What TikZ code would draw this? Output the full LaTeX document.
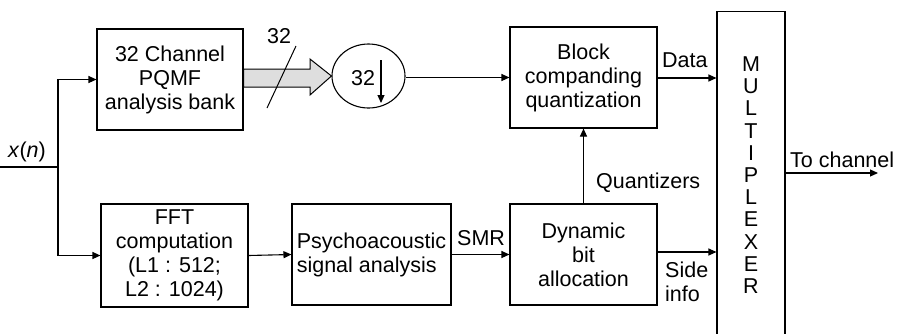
\documentclass[tikz,border=0pt]{standalone}
\usepackage{fontspec}
\setmainfont{Liberation Sans}
\usetikzlibrary{arrows.meta,shapes.geometric,calc}
\begin{document}
\begin{tikzpicture}[x=1pt,y=-1pt,
  every node/.style={font=\fontsize{21.5}{24}\selectfont},
  blk/.style={draw,line width=1.1pt,inner sep=0pt,align=center},
  lbl/.style={inner sep=0pt,anchor=base west},
  conn/.style={line width=1.1pt},
  arr/.style={conn,-{Triangle[length=8pt,width=7pt]}}]
\useasboundingbox (0,0) rectangle (902,333);
% boxes
\node[blk,minimum width=146pt,minimum height=101pt] (pqmf) at (170,79.5) {32 Channel\\PQMF\\analysis bank};
\node[blk,minimum width=147pt,minimum height=103pt] (fft) at (174.5,255.5) {FFT\\computation\\(L1 : 512;\\L2 : 1024)};
\node[blk,minimum width=159pt,minimum height=101pt,align=left] (psy) at (371.5,254.5) {Psychoacoustic\\signal analysis};
\node[blk,minimum width=147pt,minimum height=101pt] (dyn) at (583.5,254.5) {Dynamic\\bit\\allocation};
\node[blk,minimum width=147pt,minimum height=101pt] (bcq) at (583.5,77.5) {Block\\companding\\quantization};
\node[blk,minimum width=68pt,minimum height=332pt,anchor=north] (mux) at (751,11) {};
\node[ellipse,draw,line width=1.1pt,minimum width=73pt,minimum height=64pt,inner sep=0pt] (dn) at (368.5,76) {};
% multiplexer letters
\foreach \ch [count=\i from 0] in {M,U,L,T,I,P,L,E,X,E,R}
  \node[inner sep=0pt,anchor=base] (m\i) at (751,71.5+22.2*\i) {\ch};
% input
\coordinate (in) at (0,167);
\coordinate (j) at (58,167);
\node[lbl] (xn) at (8,157) {\textit{x}(\textit{n})};
\draw[conn] (in) -- (j);
\draw[arr] (j) |- (pqmf.west);
\draw[arr] (j) |- (fft.west);
% wide arrow
\draw[line width=1pt,fill=black!13] (pqmf.east |- 0,69) -- (310,69) -- (310,59) -- (dn.west) -- (310,95) -- (310,87) -- (pqmf.east |- 0,87) -- cycle;
\coordinate (s1) at (267,108);
\coordinate (s2) at (296,46);
\draw[line width=1pt] (s1) -- (s2);
\node[lbl] (n32) at (267,43) {32};
% decimator content
\node[lbl] (d32) at (351,85) {32};
\coordinate (da) at (381,60);
\coordinate (db) at (381,103);
\draw[conn,-{Triangle[length=8pt,width=7pt]}] (da) -- (db);
% connectors
\draw[arr] (dn.east |- 0,77.5) -- (bcq.west);
\draw[arr] (fft.east) -- (psy.west);
\draw[arr] (psy.east) -- (dyn.west);
\draw[arr] (dyn.north) -- (bcq.south);
\draw[arr] (bcq.east |- 0,78) -- (mux.west |- 0,78);
\draw[arr] (dyn.east |- 0,252) -- (mux.west |- 0,252);
\coordinate (out) at (878,173);
\draw[arr] (mux.east |- out) -- (out);
% labels
\node[lbl] (ldata) at (662,67) {Data};
\node[lbl] (lq) at (596,188) {Quantizers};
\node[lbl] (lsmr) at (457,245) {SMR};
\node[lbl,align=left,anchor=north west] (lside) at (665,262) {Side\\info};
\node[lbl] (lch) at (790,167) {To channel};
\end{tikzpicture}
\end{document}
